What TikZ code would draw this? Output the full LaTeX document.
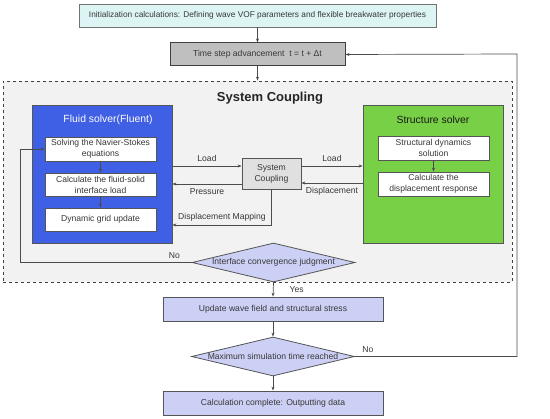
\documentclass[tikz,border=0pt]{standalone}
\usepackage{fontspec}
\setmainfont{Liberation Sans}
\usetikzlibrary{arrows.meta,shapes.geometric}

\definecolor{initfill}{HTML}{DDF4F4}
\definecolor{timefill}{HTML}{BFBFBF}
\definecolor{panelfill}{HTML}{F2F2F2}
\definecolor{fluidblue}{HTML}{3F5FE4}
\definecolor{structgreen}{HTML}{77D045}
\definecolor{scfill}{HTML}{E0E0E0}
\definecolor{lavender}{HTML}{CCD0F5}
\definecolor{edge}{HTML}{555555}

\begin{document}
\begin{tikzpicture}[x=1pt, y=-1pt,
    every node/.style={font=\fontsize{8.6}{11}\selectfont, text=black!78, align=center, inner sep=0pt},
    box/.style={draw=edge, line width=0.8pt, minimum height=23pt},
    inbox/.style={box, fill=white, minimum width=111pt, minimum height=24pt},
    solver/.style={draw=edge, line width=0.8pt, minimum width=140pt, minimum height=138pt},
    dia/.style={diamond, draw=edge, line width=0.8pt, fill=lavender, aspect=4.2, inner xsep=-5pt, minimum width=163pt, minimum height=39pt},
    flow/.style={draw=black!70, line width=0.7pt, -{Stealth[length=4pt,width=3pt]}}]
  \useasboundingbox (0,0) rectangle (550,419);
  % top of the loop
  \node[box, fill=initfill, draw=black!55, minimum width=357pt, font=\fontsize{8.3}{10}\selectfont] (init) at (257.5,15.5)
      {Initialization calculations: Defining wave VOF parameters and flexible breakwater properties};
  \node[box, fill=timefill, draw=black!75, line width=1pt, minimum width=175pt] (time) at (257.5,54.5)
      {Time step advancement\ \ t = t + Δt};
  % coupling panel
  \node[draw=black!75, dashed, line width=0.8pt, fill=panelfill, minimum width=509pt, minimum height=201pt] (panel) at (257.5,181.5) {};
  \node[font=\fontsize{13}{15}\selectfont\bfseries, text=black!85] (ptitle) at (270,98) {System Coupling};
  % fluid side
  \node[solver, fill=fluidblue] (fluid) at (102,174) {};
  \node[font=\fontsize{10.4}{12}\selectfont, text=white] (ftitle) at (108,120) {Fluid solver(Fluent)};
  \node[inbox] (ns) at (100.5,149) {Solving the Navier-Stokes\\equations};
  \node[inbox, minimum height=23pt] (iload) at (100.5,184.5) {Calculate the fluid-solid\\interface load};
  \node[inbox, minimum height=23pt] (grid) at (100.5,219.5) {Dynamic grid update};
  % structure side
  \node[solver, fill=structgreen] (struct) at (433,174) {};
  \node[font=\fontsize{10.4}{12}\selectfont, text=black!90] (stitle) at (433,120) {Structure solver};
  \node[inbox] (sdyn) at (433.5,148) {Structural dynamics\\solution};
  \node[inbox] (disp) at (433.5,184) {Calculate the\\displacement response};
  % coupling node
  \node[box, fill=scfill, minimum width=59pt, minimum height=31pt] (sc) at (271.5,173.5) {System\\Coupling};
  % decisions and output
  \node[dia] (conv) at (273.5,262.5) {Interface convergence judgment};
  \node[box, fill=lavender, minimum width=220pt, minimum height=24pt] (update) at (273,309) {Update wave field and structural stress};
  \node[dia] (maxt) at (273,356.5) {Maximum simulation time reached};
  \node[box, fill=lavender, minimum width=220pt, minimum height=24pt] (done) at (273,403) {Calculation complete: Outputting data};
  \coordinate (lloop) at (20,149);
  \coordinate (rloop) at (517,54);
  % arrows
  \draw[flow] (init) -- (time);
  \draw[flow] (time) -- (panel.north);
  \draw[flow] (ns) -- (iload);
  \draw[flow] (iload) -- (grid);
  \draw[flow] (sdyn) -- (disp);
  \draw[flow] ([yshift=7.5pt]sc.west -| fluid.east) -- node[above=4pt] {Load} ([yshift=7.5pt]sc.west);
  \draw[flow] ([yshift=-10.5pt]sc.west) -- node[below=4pt] {Pressure} ([yshift=-10.5pt]sc.west -| fluid.east);
  \draw[flow] ([yshift=7.5pt]sc.east) -- node[above=4pt] {Load} ([yshift=7.5pt]sc.east -| struct.west);
  \draw[flow] ([yshift=-9.5pt]sc.east -| struct.west) -- node[below=4pt] {Displacement} ([yshift=-9.5pt]sc.east);
  \draw[flow] (sc.south) |- node[pos=0.75, above=3pt] {Displacement Mapping} ([yshift=-51pt]fluid.east);
  \draw[flow] (conv.west) -| node[pos=0.05, above=4pt] {No} (lloop) -- (ns.west);
  \draw[flow] (conv.south) -- node[right=16pt] {Yes} (update.north);
  \draw[flow] (update) -- (maxt);
  \draw[flow] (maxt) -- (done);
  \draw[flow] (maxt.east) -| node[pos=0.04, above=4pt] {No} (rloop) -- (time.east);
\end{tikzpicture}
\end{document}
